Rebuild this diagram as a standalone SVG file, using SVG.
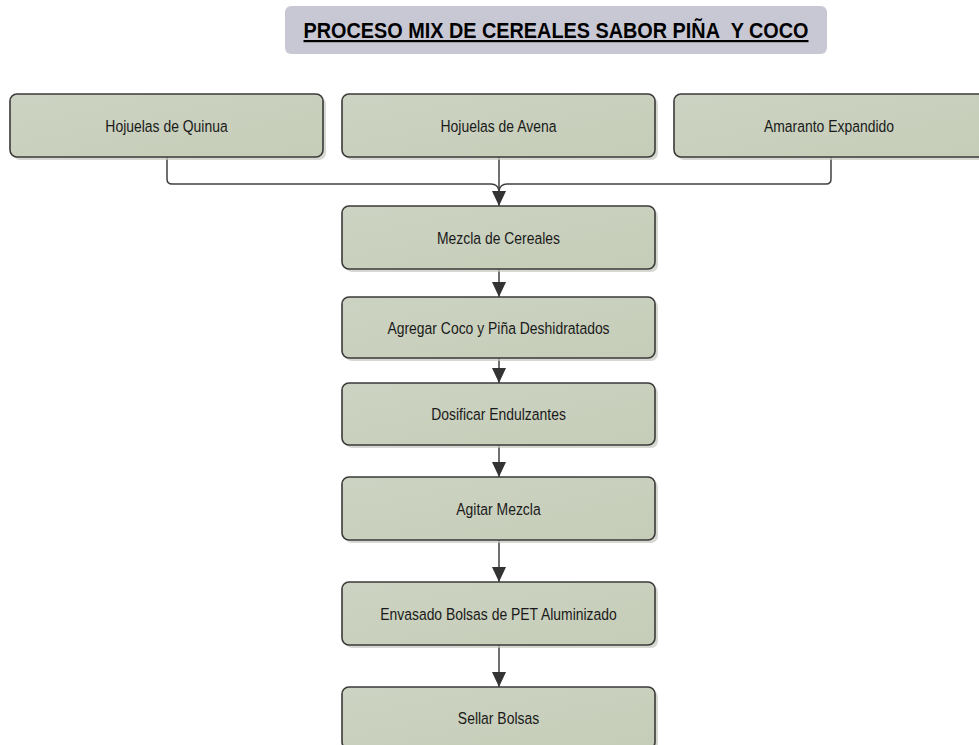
<svg xmlns="http://www.w3.org/2000/svg" width="979" height="745" viewBox="0 0 979 745">
<style>
.box{fill:url(#g);stroke:#3a3a3a;stroke-width:1.6}
.sh{fill:#c4c8bd;opacity:0.7}
.lbl{font-family:"Liberation Sans",Arial,sans-serif;font-size:17px;fill:#1a1a1a;text-anchor:middle}
.con{fill:none;stroke:#404040;stroke-width:1.5}
</style>
<defs>
<linearGradient id="g" x1="0" y1="0" x2="1" y2="1">
<stop offset="0" stop-color="#cdd3c2"/>
<stop offset="1" stop-color="#c5cdb8"/>
</linearGradient>
<marker id="ah" viewBox="0 0 15 14" refX="15" refY="7" markerWidth="15" markerHeight="14" markerUnits="userSpaceOnUse" orient="auto">
<path d="M0,0 L15,7 L0,14 z" fill="#333"/>
</marker>
</defs>
<rect width="979" height="745" fill="#fff"/>
<g id="title">
<rect x="285" y="6" width="542" height="48" rx="6" fill="#c8c8d5"/>
<text x="556" y="38" font-family="'Liberation Sans',Arial,sans-serif" font-size="22" font-weight="bold" text-anchor="middle" textLength="505" lengthAdjust="spacingAndGlyphs" text-decoration="underline" fill="#000">PROCESO MIX DE CEREALES SABOR PIÑA&#160; Y COCO</text>
</g>
<g id="connectors">
<path class="con" d="M167,157 V179 Q167,184 172,184 H491 Q498,184 499,191"/>
<path class="con" d="M831,157 V179 Q831,184 826,184 H507 Q500,184 499,191"/>
<path class="con" d="M499,157 V206" marker-end="url(#ah)"/>
<path class="con" d="M499,269 V297" marker-end="url(#ah)"/>
<path class="con" d="M499,358 V383" marker-end="url(#ah)"/>
<path class="con" d="M499,445 V477" marker-end="url(#ah)"/>
<path class="con" d="M499,540 V582" marker-end="url(#ah)"/>
<path class="con" d="M499,645 V687" marker-end="url(#ah)"/>
</g>
<g id="n1">
<rect class="sh" x="13" y="97" width="313" height="63" rx="7"/>
<rect class="box" x="10" y="94" width="313" height="63" rx="7"/>
<text class="lbl" transform="translate(166.5,131.5) scale(0.82,1)">Hojuelas de Quinua</text>
</g>
<g id="n2">
<rect class="sh" x="345" y="97" width="313" height="63" rx="7"/>
<rect class="box" x="342" y="94" width="313" height="63" rx="7"/>
<text class="lbl" transform="translate(498.5,131.5) scale(0.82,1)">Hojuelas de Avena</text>
</g>
<g id="n3">
<rect class="sh" x="677" y="97" width="313" height="63" rx="7"/>
<rect class="box" x="674" y="94" width="313" height="63" rx="7"/>
<text class="lbl" transform="translate(829,131.5) scale(0.82,1)">Amaranto Expandido</text>
</g>
<g id="n4">
<rect class="sh" x="345" y="209" width="313" height="63" rx="7"/>
<rect class="box" x="342" y="206" width="313" height="63" rx="7"/>
<text class="lbl" transform="translate(498.5,243.5) scale(0.82,1)">Mezcla de Cereales</text>
</g>
<g id="n5">
<rect class="sh" x="345" y="300" width="313" height="61" rx="7"/>
<rect class="box" x="342" y="297" width="313" height="61" rx="7"/>
<text class="lbl" transform="translate(498.5,333.5) scale(0.82,1)">Agregar Coco y Piña Deshidratados</text>
</g>
<g id="n6">
<rect class="sh" x="345" y="386" width="313" height="62" rx="7"/>
<rect class="box" x="342" y="383" width="313" height="62" rx="7"/>
<text class="lbl" transform="translate(498.5,420) scale(0.82,1)">Dosificar Endulzantes</text>
</g>
<g id="n7">
<rect class="sh" x="345" y="480" width="313" height="63" rx="7"/>
<rect class="box" x="342" y="477" width="313" height="63" rx="7"/>
<text class="lbl" transform="translate(498.5,514.5) scale(0.82,1)">Agitar Mezcla</text>
</g>
<g id="n8">
<rect class="sh" x="345" y="585" width="313" height="63" rx="7"/>
<rect class="box" x="342" y="582" width="313" height="63" rx="7"/>
<text class="lbl" transform="translate(498.5,619.5) scale(0.82,1)">Envasado Bolsas de PET Aluminizado</text>
</g>
<g id="n9">
<rect class="sh" x="345" y="690" width="313" height="62" rx="7"/>
<rect class="box" x="342" y="687" width="313" height="62" rx="7"/>
<text class="lbl" transform="translate(498.5,723.5) scale(0.82,1)">Sellar Bolsas</text>
</g>
</svg>
